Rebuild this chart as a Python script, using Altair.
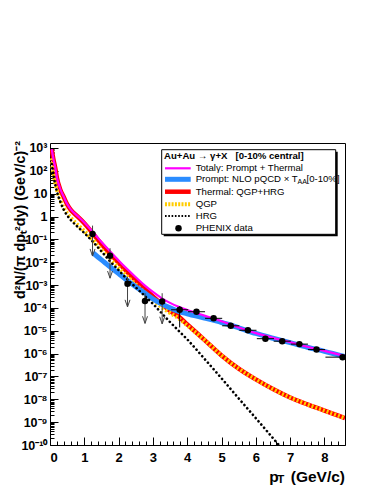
import altair as alt
import pandas as pd

W, H = 295, 302
FONT = "Liberation Sans"

# ---------------- data ----------------
X_GRID = [0.05, 0.1, 0.15, 0.2, 0.3, 0.4, 0.5, 0.6, 0.8, 1.0, 1.25, 1.5, 1.75, 2.0,
          2.25, 2.5, 2.75, 3.0, 3.25, 3.5, 3.75, 4.0, 4.5, 5.0, 5.5, 6.0, 6.5, 7.0,
          7.5, 8.0, 8.6]
TOTAL = [891, 331, 148, 52, 16, 7.4, 3.5, 2.1, 1.07, 0.55, 0.21, 0.076, 0.030, 0.012,
         5.0e-3, 2.2e-3, 1.0e-3, 5.0e-4, 2.7e-4, 1.66e-4, 1.12e-4, 8.1e-5, 4.6e-5,
         2.6e-5, 1.4e-5, 7.9e-6, 4.9e-6, 3.2e-6, 2.0e-6, 1.32e-6, 7.8e-7]
THERMAL = [851, 316, 141, 50, 15, 7.1, 3.4, 2.0, 1.02, 0.51, 0.18, 0.063, 0.024, 9.5e-3,
           3.8e-3, 1.6e-3, 7.1e-4, 3.2e-4, 1.5e-4, 7.4e-5, 4.2e-5, 1.9e-5, 4.0e-6,
           8.3e-7, 2.2e-7, 7.4e-8, 2.8e-8, 1.2e-8, 6.0e-9, 3.2e-9, 1.5e-9]

X_PROMPT = [1.25, 1.5, 1.75, 2.0, 2.25, 2.5, 2.75, 3.0, 3.25, 3.5, 3.75, 4.0, 4.5, 5.0,
            5.5, 6.0, 6.5, 7.0, 7.5, 8.0, 8.6]
PROMPT = [0.026, 0.0126, 6.3e-3, 3.2e-3, 1.6e-3, 8.5e-4, 4.6e-4, 2.5e-4, 1.5e-4, 1.0e-4,
          7.1e-5, 5.5e-5, 3.6e-5, 2.3e-5, 1.35e-5, 7.6e-6, 4.7e-6, 3.0e-6, 1.9e-6,
          1.26e-6, 7.4e-7]

X_QGP = [0.03, 0.05, 0.1, 0.15, 0.2, 0.3, 0.4, 0.5, 0.6, 0.8, 1.0, 1.25, 1.5, 1.75, 2.0,
         2.25, 2.5, 2.75, 3.0, 3.25, 3.5, 3.75, 4.0, 4.5, 5.0, 5.5, 6.0, 6.5, 7.0, 7.5,
         8.0, 8.6]
QGP = [355, 240, 79, 32, 15, 5.2, 2.4, 1.38, 0.89, 0.44, 0.23, 0.095, 0.035, 0.0138,
       5.8e-3, 2.4e-3, 1.07e-3, 4.8e-4, 2.2e-4, 1.1e-4, 6.0e-5, 3.5e-5, 1.7e-5, 4.0e-6,
       8.3e-7, 2.2e-7, 7.4e-8, 2.8e-8, 1.2e-8, 6.0e-9, 3.2e-9, 1.5e-9]

X_HRG = [0.05, 0.1, 0.15, 0.2, 0.3, 0.4, 0.5, 0.6, 0.8, 1.0, 1.25, 1.5, 1.75, 2.0, 2.25,
         2.5, 2.75, 3.0, 3.25, 3.5, 3.75, 4.0, 4.5, 5.0, 5.5, 6.0, 6.5, 6.7]
HRG = [200, 63, 26, 12.6, 4.5, 2.0, 1.12, 0.72, 0.36, 0.19, 0.079, 0.030, 0.011, 4.5e-3,
       1.8e-3, 7.9e-4, 3.5e-4, 1.5e-4, 6.0e-5, 2.4e-5, 1.0e-5, 4.2e-6, 6.0e-7, 8.3e-8,
       1.1e-8, 1.5e-9, 2.0e-10, 8.9e-11]

# PHENIX data
PX = [1.24, 1.75, 2.26, 2.77, 3.27, 3.78, 4.27, 4.77, 5.27, 5.77, 6.28, 6.77, 7.27, 7.77, 8.53]
PY = [0.17, 0.019, 1.15e-3, 2.0e-4, 1.9e-4, 8.3e-5, 6.8e-5, 3.5e-5, 1.65e-5, 1.05e-5,
      4.5e-6, 3.5e-6, 2.6e-6, 1.5e-6, 7.0e-7]
# upper-limit arrows (first five points)
AX = [1.24, 1.75, 2.26, 2.77, 3.27]
A_TOP = [0.40, 0.041, 2.3e-3, 4.4e-4, 4.4e-4]
A_TIP = [0.0186, 2.0e-3, 1.1e-4, 2.1e-5, 2.0e-5]
# points with horizontal (bin) and vertical error bars
EX = [3.78, 4.27, 4.77, 5.27, 5.77, 6.28, 6.77, 7.27, 7.77, 8.53]
EX_LO = [3.53, 4.02, 4.52, 5.02, 5.52, 6.03, 6.52, 7.02, 7.52, 8.03]
EX_HI = [4.03, 4.52, 5.02, 5.52, 6.02, 6.53, 7.02, 7.52, 8.02, 9.03]
EY = [8.3e-5, 6.8e-5, 3.5e-5, 1.65e-5, 1.05e-5, 4.5e-6, 3.5e-6, 2.6e-6, 1.5e-6, 7.0e-7]
EY_LO = [1.4e-5, 5.6e-5, 2.9e-5, 1.35e-5, 8.7e-6, 3.7e-6, 2.9e-6, 2.15e-6, 1.25e-6, 5.8e-7]
EY_HI = [1.2e-4, 8.2e-5, 4.2e-5, 2.0e-5, 1.27e-5, 5.4e-6, 4.2e-6, 3.1e-6, 1.8e-6, 8.4e-7]

X_LABELS = [0, 1, 2, 3, 4, 5, 6, 7, 8]
Y_LABELS = ["10⁻¹⁰", "10⁻⁹", "10⁻⁸", "10⁻⁷", "10⁻⁶", "10⁻⁵", "10⁻⁴", "10⁻³", "10⁻²",
            "10⁻¹", "1", "10", "10²", "10³"]

LEG_HEADER = "Au+Au → γ+X\u00a0\u00a0\u00a0[0-10% central]"
LEG_LABELS = ["Totalγ: Prompt + Thermal", "Prompt: NLO pQCD × T", "Thermal: QGP+HRG",
              "QGP", "HRG", "PHENIX data"]

# ---------------- styling ----------------
C_TOTAL, C_PROMPT, C_THERM, C_QGP, C_HRG = "#ff00ff", "#2a8cff", "#ff0000", "#ffcc00", "#000000"

xs = alt.Scale(domain=[0, 8.6], nice=False, zero=False)
ys = alt.Scale(type="log", domain=[1e-10, 1650], nice=False)

y_major = [10.0 ** k for k in range(-10, 4)]
y_minor = [m * 10.0 ** k for k in range(-10, 3) for m in range(2, 10)]
y_ticks = sorted(y_major + y_minor)
x_ticks = [round(0.2 * i, 1) for i in range(0, 44)]

label_expr = "[" + ",".join("'%s'" % s for s in Y_LABELS) + "][round(log(datum.value)/LN10)+10]"

x_axis = alt.Axis(values=X_LABELS, format="d", ticks=False, domain=False, grid=False,
                  labelFont=FONT, labelFontSize=13, labelFontWeight="bold",
                  labelColor="black", labelPadding=6, title=None)
y_axis = alt.Axis(values=y_major, labelExpr=label_expr, ticks=False, domain=False,
                  grid=False, labelFont=FONT, labelFontSize=12.5, labelFontWeight="bold",
                  labelColor="black", labelPadding=3, title=None)

X = lambda f="x": alt.X(f"{f}:Q", scale=xs, axis=x_axis)
Y = lambda f="y": alt.Y(f"{f}:Q", scale=ys, axis=y_axis)


def curve(xv, yv, color, width, dash=None, cap="butt"):
    kw = dict(color=color, strokeWidth=width, interpolate="monotone", clip=True,
              strokeCap=cap)
    if dash:
        kw["strokeDash"] = dash
    return alt.Chart(pd.DataFrame({"x": xv, "y": yv})).mark_line(**kw).encode(x=X(), y=Y())


layers = [
    curve(X_GRID, THERMAL, C_THERM, 4.5),
    curve(X_QGP, QGP, C_QGP, 4, dash=[2, 2]),
    curve(X_PROMPT, PROMPT, C_PROMPT, 5),
    curve(X_HRG, HRG, C_HRG, 2.6, dash=[0.1, 4.2], cap="round"),
    curve(X_GRID, TOTAL, C_TOTAL, 2.2),
]

arrows = pd.DataFrame({"x": AX, "top": A_TOP, "tip": A_TIP})
layers.append(alt.Chart(arrows).mark_rule(color="#444444", strokeWidth=1).encode(
    x=X(), y=Y("top"), y2="tip:Q"))
layers.append(alt.Chart(arrows).mark_point(
    shape="M-0.9,-2.6L0,0L0.9,-2.6", filled=False, color="#444444", strokeWidth=1,
    size=30, opacity=1).encode(x=X(), y=Y("tip")))

errs = pd.DataFrame({"x": EX, "xlo": EX_LO, "xhi": EX_HI, "y": EY, "ylo": EY_LO, "yhi": EY_HI})
layers.append(alt.Chart(errs).mark_rule(color="black", strokeWidth=1, clip=True).encode(
    x=X("xlo"), x2="xhi:Q", y=Y()))
layers.append(alt.Chart(errs).mark_rule(color="black", strokeWidth=1, clip=True).encode(
    x=X(), y=Y("ylo"), y2="yhi:Q"))
layers.append(alt.Chart(pd.DataFrame({"x": PX, "y": PY})).mark_circle(
    color="black", size=42, opacity=1).encode(x=X(), y=Y()))

# ---------------- legend (drawn inside the frame) ----------------
LX0, LX1, LY0, LY1 = 111.7, 285.7, 6.7, 91.3
one = pd.DataFrame({"k": [0]})
layers.append(alt.Chart(one).mark_rect(color="black").encode(
    x=alt.value(LX0 + 2), x2=alt.value(LX1 + 2), y=alt.value(LY0 + 2), y2=alt.value(LY1 + 2)))
layers.append(alt.Chart(one).mark_rect(fill="white", stroke="black", strokeWidth=1).encode(
    x=alt.value(LX0), x2=alt.value(LX1), y=alt.value(LY0), y2=alt.value(LY1)))
layers.append(alt.Chart(pd.DataFrame({"t": [LEG_HEADER]})).mark_text(
    align="left", baseline="middle", font=FONT, fontSize=9.6, fontWeight="bold",
    color="black").encode(text="t:N", x=alt.value(114), y=alt.value(13)))

row_y = [25.3, 36.3, 48.7, 61.3, 73, 85.3]
styles = [
    dict(color=C_TOTAL, strokeWidth=2.2),
    dict(color=C_PROMPT, strokeWidth=5),
    dict(color=C_THERM, strokeWidth=4.5),
    dict(color=C_QGP, strokeWidth=4, strokeDash=[2, 1.3]),
    dict(color=C_HRG, strokeWidth=2, strokeDash=[1.6, 1.7]),
]
for i, lab in enumerate(LEG_LABELS):
    d = pd.DataFrame({"t": [lab]})
    if i < 5:
        layers.append(alt.Chart(d).mark_rule(**styles[i]).encode(
            x=alt.value(115), x2=alt.value(140.7), y=alt.value(row_y[i])))
    else:
        layers.append(alt.Chart(d).mark_circle(color="black", size=42, opacity=1).encode(
            x=alt.value(128.5), y=alt.value(row_y[i])))
    layers.append(alt.Chart(d).mark_text(
        align="left", baseline="middle", font=FONT, fontSize=9.6, color="black").encode(
        text="t:N", x=alt.value(145.7), y=alt.value(row_y[i])))
layers.append(alt.Chart(pd.DataFrame({"t": ["AA"]})).mark_text(
    align="left", baseline="middle", font=FONT, fontSize=7, color="black").encode(
    text="t:N", x=alt.value(247.5), y=alt.value(row_y[1] + 2.5)))
layers.append(alt.Chart(pd.DataFrame({"t": ["[0-10%]"]})).mark_text(
    align="left", baseline="middle", font=FONT, fontSize=9.6, color="black").encode(
    text="t:N", x=alt.value(256.5), y=alt.value(row_y[1])))

# ---------------- axis titles ----------------
layers.append(alt.Chart(pd.DataFrame({"t": ["(GeV/c)"]})).mark_text(
    align="right", baseline="alphabetic", font=FONT, fontSize=15.5, fontWeight="bold",
    color="black").encode(text="t:N", x=alt.value(W), y=alt.value(338.7)))
layers.append(alt.Chart(pd.DataFrame({"t": ["p"]})).mark_text(
    align="left", baseline="alphabetic", font=FONT, fontSize=15.5, fontWeight="bold",
    color="black").encode(text="t:N", x=alt.value(219.3), y=alt.value(338.7)))
layers.append(alt.Chart(pd.DataFrame({"t": ["T"]})).mark_text(
    align="left", baseline="alphabetic", font=FONT, fontSize=11.5, fontWeight="bold",
    color="black").encode(text="t:N", x=alt.value(227.3), y=alt.value(340.3)))
layers.append(alt.Chart(pd.DataFrame({"t": ["d²N/(π dpₜ²dy) (GeV/c)⁻²"]})).mark_text(
    align="right", baseline="middle", angle=270, font=FONT, fontSize=14.3,
    fontWeight="bold", color="black").encode(
    text="t:N", x=alt.value(-29), y=alt.value(-2)))

main = alt.layer(*layers)

# inward-pointing ticks, ROOT style
tick_axis_x = alt.Axis(orient="top", offset=-H, values=x_ticks, labels=False, domain=False,
                       grid=False, title=None, tickColor="black", tickWidth=1,
                       tickSize={"condition": {"test": "abs(datum.value - round(datum.value)) < 0.001",
                                               "value": 8}, "value": 4})
tick_axis_y = alt.Axis(orient="right", offset=-W, values=y_ticks, labels=False, domain=False,
                       grid=False, title=None, tickColor="black", tickWidth=1,
                       tickSize={"condition": {"test": "abs(log(datum.value)/LN10 - round(log(datum.value)/LN10)) < 0.001",
                                               "value": 8}, "value": 4})
tick_layer = alt.Chart(pd.DataFrame({"x": [1.0], "y": [1.0]})).mark_point(opacity=0).encode(
    x=alt.X("x:Q", scale=xs, axis=tick_axis_x), y=alt.Y("y:Q", scale=ys, axis=tick_axis_y))

chart = alt.layer(main, tick_layer).resolve_axis(x="independent", y="independent").properties(
    width=W, height=H, autosize=alt.AutoSizeParams(type="none"),
    padding={"left": 42, "top": 135, "right": 26, "bottom": 44},
    background="white",
).configure_view(stroke="black", strokeWidth=1)

chart.save("out.html", embed_options={"renderer": "svg", "actions": False})
